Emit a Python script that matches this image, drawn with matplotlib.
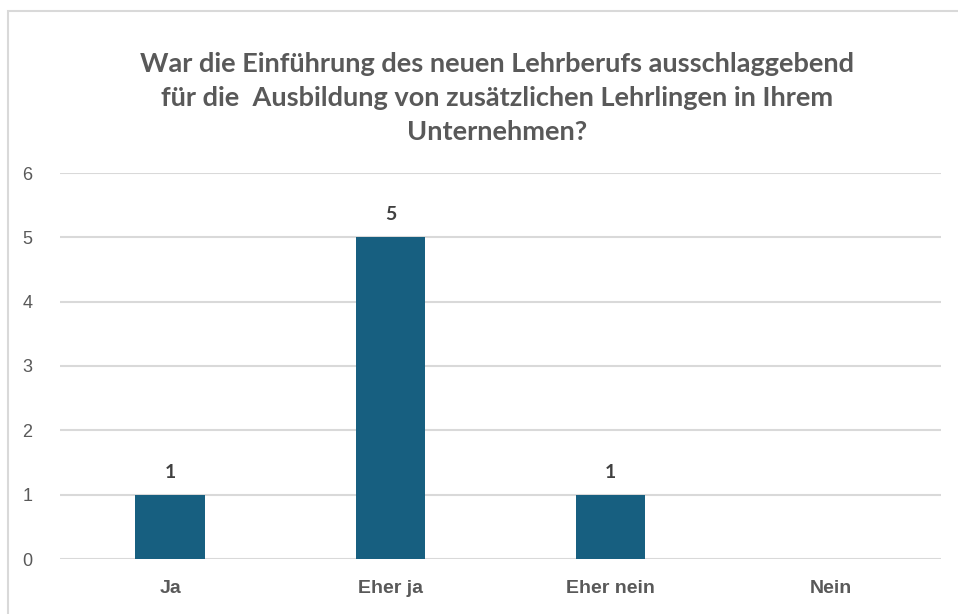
import matplotlib.pyplot as plt
import numpy as np
from matplotlib.patches import Rectangle

# Data
categories = ['Ja', 'Eher ja', 'Eher nein', 'Nein']
counts = [1, 5, 1, 0]
title = ("War die Einführung des neuen Lehrberufs ausschlaggebend\n"
         "für die  Ausbildung von zusätzlichen Lehrlingen in Ihrem\n"
         "Unternehmen?")

fig = plt.figure(figsize=(9.58, 6.14), dpi=100)
ax = fig.add_axes([60 / 958, 1 - 559 / 614, (941 - 60) / 958, (559 - 173) / 614])

# chart border (Excel style)
fig.patches.append(Rectangle((8 / 958, -0.05), 1.0, 1 - 11 / 614 + 0.05,
                             transform=fig.transFigure, fill=False,
                             edgecolor='#d9d9d9', linewidth=1.5))

x = np.arange(len(categories))
bars = ax.bar(x, counts, width=0.315, color='#175f80', zorder=3)

for b, v in zip(bars, counts):
    if v > 0:
        ax.annotate(str(v), (b.get_x() + b.get_width() / 2, v),
                    xytext=(0, 10), textcoords='offset points',
                    ha='center', va='bottom', fontsize=14, fontweight='bold',
                    color='#404040', family='Lato')

ax.set_xlim(-0.5, len(categories) - 0.5)
ax.set_ylim(0, 6)
ax.set_yticks(range(0, 7))
ax.yaxis.grid(True, color='#d9d9d9', linewidth=1.5, zorder=0)
for s in ax.spines.values():
    s.set_visible(False)
ax.tick_params(axis='both', length=0)
ax.tick_params(axis='y', pad=20, labelsize=13, labelcolor='#595959')
ax.tick_params(axis='x', pad=15, labelsize=14, labelcolor='#595959')
ax.set_xticks(x)
ax.set_xticklabels(categories, fontweight='bold', family='Liberation Sans')
for t in ax.get_yticklabels():
    t.set_family('Liberation Sans')

fig.text(497 / 958, 1 - 98 / 614, title, ha='center', va='center',
         fontsize=19.5, fontweight='bold', color='#595959', family='Lato',
         linespacing=1.5)

fig.savefig('out.png', dpi=100, facecolor='white')
